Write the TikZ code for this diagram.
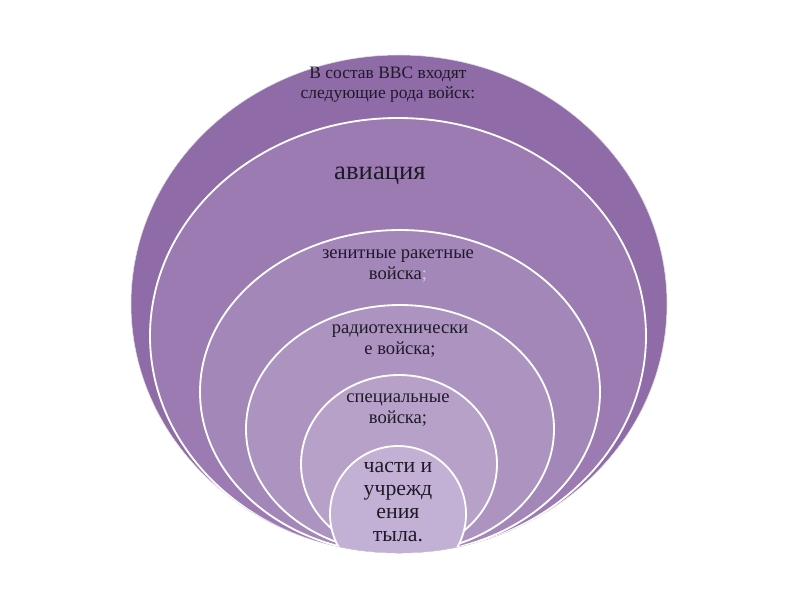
\documentclass[tikz,border=0pt]{standalone}
\usepackage{fontspec}
\setmainfont{LiberationSerif}[Extension=.ttf, UprightFont=*-Regular, BoldFont=*-Bold]
\newfontfamily\rusfont{LiberationSerif}[Extension=.ttf, UprightFont=*-Regular, Script=Cyrillic]
\usetikzlibrary{positioning}

\definecolor{layerA}{HTML}{8F6BA8}
\definecolor{layerB}{HTML}{9C7BB3}
\definecolor{layerC}{HTML}{A487B9}
\definecolor{layerD}{HTML}{AD94C0}
\definecolor{layerE}{HTML}{B7A1C8}
\definecolor{layerF}{HTML}{C3B0D5}
\definecolor{ink}{HTML}{1E1A28}

\begin{document}
\begin{tikzpicture}[
  x=0.025cm, y=-0.025cm,
  ring/.style={draw=white, line width=1.3pt},
  lbl/.style={align=center, text=ink, inner sep=0pt},
  small/.style={lbl, font=\rusfont\fontsize{13.2}{15}\selectfont},
  big/.style={lbl, font=\rusfont\fontsize{15.5}{16.5}\selectfont}
]
  \useasboundingbox (0,0) rectangle (800,600);

  % outer layer
  \filldraw[fill=layerA, draw=black!12, line width=0.4pt] (399,304) ellipse [x radius=268, y radius=249];

  % nested layers, cut at the outer edge
  \begin{scope}
    \clip (399,304) ellipse [x radius=268, y radius=249];
    \filldraw[ring, fill=layerB] (398,336) ellipse [x radius=248, y radius=218];
    \filldraw[ring, fill=layerC] (400,392) ellipse [x radius=200, y radius=162];
    \filldraw[ring, fill=layerD] (400,429) ellipse [x radius=154, y radius=124];
    \filldraw[ring, fill=layerE] (399,464) ellipse [x radius=98, y radius=89];
    \filldraw[ring, fill=layerF] (398,514) circle [radius=68];
  \end{scope}

  % labels
  \node[lbl, font=\rusfont\fontsize{12.4}{14.2}\selectfont] (vvs) at (388,85) {В состав ВВС входят\\следующие рода войск:};
  \node[lbl, font=\rusfont\fontsize{19}{22}\selectfont] (avia) at (380,176) {авиация};
  \node[small] (zrv) at (398,266) {зенитные ракетные\\войска\textcolor{layerF!70}{;}};
  \node[small] (rtv) at (400,341) {радиотехнически\\е войска;};
  \node[small] (spec) at (398,410) {специальные\\войска;};
  \node[big] (tyl) at (398,502) {части и\\учрежд\\ения\\тыла.};

\end{tikzpicture}
\end{document}
